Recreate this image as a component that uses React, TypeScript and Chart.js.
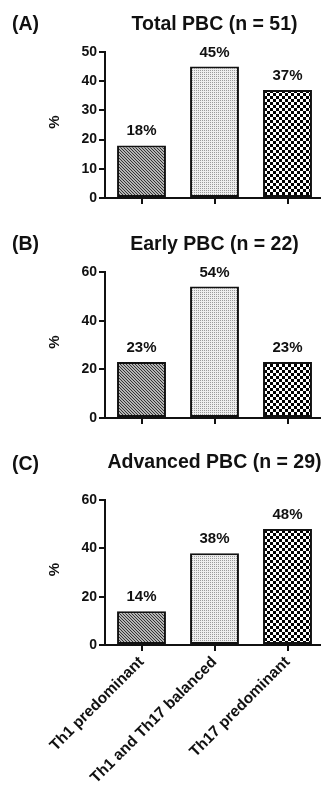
import React, { useEffect, useRef } from "react";
import { Chart, registerables } from "chart.js";

Chart.register(...registerables);

const categories = ["Th1 predominant", "Th1 and Th17 balanced", "Th17 predominant"];
const totalValues = [18, 45, 37];
const earlyValues = [23, 54, 23];
const advancedValues = [14, 38, 48];

const panelLabels = ["(A)", "(B)", "(C)"];
const panelTitles = ["Total PBC (n = 51)", "Early PBC (n = 22)", "Advanced PBC (n = 29)"];
const yMaxes = [50, 60, 60];
const ySteps = [10, 20, 20];
const yAxisTitle = "%";

const FONT = "'Liberation Sans', Arial, Helvetica, sans-serif";

function makePattern(kind: string): CanvasPattern | string {
  const c = document.createElement("canvas");
  const ctx = c.getContext("2d");
  if (!ctx) return "#888";
  if (kind === "diag") {
    c.width = 3;
    c.height = 3;
    ctx.fillStyle = "#b4b4b4";
    ctx.fillRect(0, 0, 3, 3);
    ctx.fillStyle = "#333333";
    for (let i = 0; i < 3; i++) ctx.fillRect(i, i, 1, 1);
  } else if (kind === "dots") {
    c.width = 2;
    c.height = 2;
    ctx.fillStyle = "#eeeeee";
    ctx.fillRect(0, 0, 2, 2);
    ctx.fillStyle = "#9a9a9a";
    ctx.fillRect(0, 0, 1, 1);
  } else {
    c.width = 6;
    c.height = 6;
    ctx.fillStyle = "#ffffff";
    ctx.fillRect(0, 0, 6, 6);
    ctx.fillStyle = "#000000";
    ctx.fillRect(0, 0, 3, 3);
    ctx.fillRect(3, 3, 3, 3);
  }
  const p = ctx.createPattern(c, "repeat");
  return p || "#888";
}

type PanelProps = {
  index: number;
  values: number[];
  height: number;
  top: number;
  padTop: number;
  xHeight: number;
  showXLabels: boolean;
};

function Panel({ index, values, height, top, padTop, xHeight, showXLabels }: PanelProps) {
  const ref = useRef<HTMLCanvasElement | null>(null);
  useEffect(() => {
    if (!ref.current) return;
    const patterns = [makePattern("diag"), makePattern("dots"), makePattern("check")];
    const textPlugin = {
      id: "texts" + index,
      afterDatasetsDraw(chart: any) {
        const ctx = chart.ctx;
        const meta = chart.getDatasetMeta(0);
        ctx.save();
        ctx.fillStyle = "#111";
        ctx.font = `bold 15px ${FONT}`;
        ctx.textAlign = "center";
        ctx.textBaseline = "alphabetic";
        meta.data.forEach((bar: any, i: number) => {
          ctx.fillText(`${values[i]}%`, bar.x, bar.y - 10);
        });
        ctx.restore();
      },
      afterDraw(chart: any) {
        const ctx = chart.ctx;
        const area = chart.chartArea;
        ctx.save();
        ctx.fillStyle = "#111";
        ctx.textBaseline = "alphabetic";
        ctx.font = `bold 19.5px ${FONT}`;
        ctx.textAlign = "left";
        ctx.fillText(panelLabels[index], 12, 30);
        ctx.textAlign = "center";
        ctx.fillText(panelTitles[index], (area.left + area.right) / 2, index === 2 ? 28 : 30);
        ctx.translate(55, (area.top + area.bottom) / 2 - 3);
        ctx.rotate(-Math.PI / 2);
        ctx.font = `bold 15px ${FONT}`;
        ctx.textBaseline = "middle";
        ctx.fillText(yAxisTitle, 0, 0);
        ctx.restore();
      },
    };
    const chart = new Chart(ref.current, {
      type: "bar",
      data: {
        labels: categories,
        datasets: [
          {
            data: values,
            backgroundColor: patterns as any,
            borderColor: "#111",
            borderWidth: 2,
            borderSkipped: false,
            categoryPercentage: 1,
            barPercentage: 0.67,
          },
        ],
      },
      options: {
        responsive: false,
        animation: false,
        layout: { padding: { top: padTop, right: 2, left: 0, bottom: 0 } },
        plugins: {
          legend: { display: false },
          tooltip: { enabled: false },
          title: { display: false },
        },
        scales: {
          x: {
            offset: true,
            grid: {
              offset: false,
              drawOnChartArea: false,
              drawTicks: true,
              tickLength: 6,
              tickColor: "#111",
              tickWidth: 2,
              lineWidth: 2,
              color: "#111",
            },
            border: { display: true, color: "#111", width: 2 },
            ticks: {
              display: showXLabels,
              autoSkip: false,
              maxRotation: 45,
              minRotation: 45,
              padding: 2,
              color: "#111",
              font: { family: FONT, size: 15.5, weight: "bold" },
            },
            afterFit(scale: any) {
              scale.height = xHeight;
            },
          },
          y: {
            min: 0,
            max: yMaxes[index],
            grid: {
              drawOnChartArea: false,
              drawTicks: true,
              tickLength: 6,
              tickColor: "#111",
              tickWidth: 2,
              lineWidth: 2,
              color: "#111",
            },
            border: { display: true, color: "#111", width: 2 },
            ticks: {
              stepSize: ySteps[index],
              padding: 2,
              color: "#111",
              font: { family: FONT, size: 14, weight: "bold" },
            },
            afterFit(scale: any) {
              scale.width = 105;
            },
          },
        },
      },
      plugins: [textPlugin],
    } as any);
    return () => chart.destroy();
  }, []);
  return (
    <div style={{ position: "absolute", left: 0, top, width: 326, height }}>
      <canvas ref={ref} width={326} height={height} style={{ display: "block" }} />
    </div>
  );
}

export default function App() {
  return (
    <div
      style={{
        position: "absolute",
        left: 0,
        top: 0,
        width: 321,
        height: 788,
        overflow: "hidden",
        background: "#fff",
      }}
    >
      <Panel index={0} values={totalValues} top={0} height={220} padTop={52} xHeight={22} showXLabels={false} />
      <Panel index={1} values={earlyValues} top={220} height={220} padTop={52} xHeight={22} showXLabels={false} />
      <Panel index={2} values={advancedValues} top={440} height={348} padTop={60} xHeight={143} showXLabels={true} />
    </div>
  );
}
